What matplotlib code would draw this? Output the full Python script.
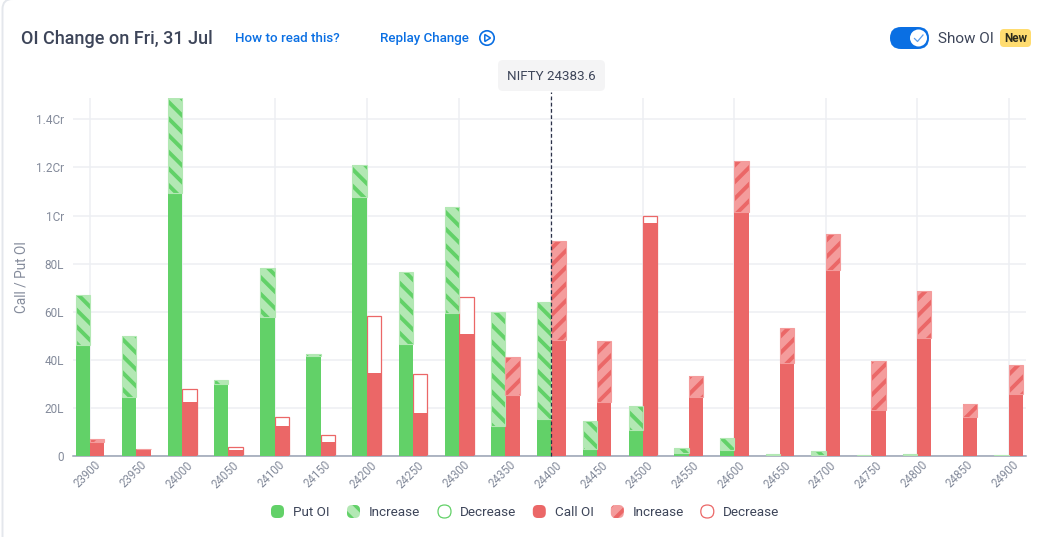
# OI change chart
import numpy as np
import matplotlib
matplotlib.use("Agg")
import matplotlib.pyplot as plt
from matplotlib.patches import FancyBboxPatch, Circle, Polygon
from matplotlib.transforms import ScaledTranslation

plt.rcParams["font.family"] = ["Roboto", "DejaVu Sans"]
plt.rcParams["hatch.linewidth"] = 2.8

# Datos (en lakhs)
strikes = [23900, 23950, 24000, 24050, 24100, 24150, 24200, 24250, 24300, 24350, 24400,
           24450, 24500, 24550, 24600, 24650, 24700, 24750, 24800, 24850, 24900]
put_now = [66.9, 50.0, 149.0, 31.7, 78.0, 42.4, 121.0, 76.4, 103.5, 59.9, 64.0,
           14.6, 20.9, 3.3, 7.3, 1.0, 1.9, 0.3, 0.8, 0.0, 0.3]
put_prev = [46.3, 24.7, 109.2, 29.8, 57.9, 41.6, 107.6, 46.4, 59.6, 12.6, 15.4,
            2.9, 10.8, 1.2, 2.5, 0.5, 0.5, 0.1, 0.4, 0.0, 0.1]
call_now = [7.0, 3.0, 22.5, 2.4, 12.6, 5.7, 34.4, 17.7, 50.7, 41.0, 89.4,
            47.8, 97.0, 33.3, 122.5, 53.1, 92.3, 39.4, 68.6, 21.8, 37.7]
call_prev = [6.0, 2.8, 27.7, 3.6, 16.2, 8.6, 58.4, 34.2, 66.1, 25.4, 48.4,
             22.3, 99.9, 24.4, 101.6, 38.7, 77.3, 19.3, 49.1, 16.2, 25.8]

y_ticks = [0, 20, 40, 60, 80, 100, 120, 140]
y_labels = ["0", "20L", "40L", "60L", "80L", "1Cr", "1.2Cr", "1.4Cr"]
spot_strike = 24400
spot_label = "NIFTY 24383.6"
title = "OI Change on Fri, 31 Jul"

GREEN = "#62D168"
GREEN_L = "#B3E8B4"
RED = "#EB6767"
RED_L = "#F49C9C"
GRID = "#EDEFF3"
TICK = "#848B9B"
INK = "#3D4559"
BLUE = "#0A6FE3"
HATCH_PUT = "\\\\"
HATCH_CALL = "//"

W, H = 1048, 537
fig = plt.figure(figsize=(W / 100, H / 100), dpi=100, facecolor="white")
ax = fig.add_axes([73 / W, 1 - 456 / H, (1026 - 73) / W, (456 - 98) / H])

# las posiciones de los strikes en el original no son del todo uniformes
knots_s = [23880, 23900, 24400, 24900, 24920]
knots_p = [71.3, 89.8, 551.3, 1008.7, 1027]
ax.set_xscale("function", functions=(lambda v: np.interp(v, knots_s, knots_p),
                                     lambda v: np.interp(v, knots_p, knots_s)))
ax.set_xlim(23881.5, 24919)
ax.set_ylim(0, 148.9)

ax.set_yticks(y_ticks, y_labels)
ax.set_xticks(strikes, [str(s) for s in strikes])
ax.grid(axis="y", color=GRID, lw=1.1)
for s in strikes[::2]:
    ax.axvline(s, color=GRID, lw=1.1, zorder=0.5)
ax.set_axisbelow(True)
for side in ["top", "left", "right"]:
    ax.spines[side].set_visible(False)
ax.spines["bottom"].set_color("#98A2B3")
ax.spines["bottom"].set_linewidth(1.1)
ax.tick_params(axis="y", length=0, pad=6.5, labelsize=8.5, labelcolor=TICK)
ax.tick_params(axis="x", length=0, pad=1.8, labelsize=8.3, labelcolor=TICK)
offset = ScaledTranslation(-2.2 / 72, 0, fig.dpi_scale_trans)
for lab in ax.get_xticklabels():
    lab.set_rotation(45)
    lab.set_ha("center")
    lab.set_transform(lab.get_transform() + offset)


def draw_side(now, prev, lefts, solid, light, hatch):
    for x, n, p in zip(lefts, now, prev):
        base = min(n, p)
        if p > n:
            ax.bar(x, p, width=15.6, align="edge", facecolor="white", edgecolor=solid, linewidth=0.9, zorder=2)
        elif n > p:
            ax.bar(x, n, width=15.6, align="edge", facecolor=light, edgecolor=solid, linewidth=0, hatch=hatch, zorder=2)
        ax.bar(x, base, width=15.6, align="edge", color=solid, linewidth=0, zorder=3)
        if n > p:
            # borde claro alrededor de la parte rayada
            ax.bar(x, n - p, bottom=p, width=15.6, align="edge", facecolor="none", edgecolor=light, linewidth=0.8, zorder=3.5)


draw_side(put_now, put_prev, [s - 15.6 for s in strikes], GREEN, GREEN_L, HATCH_PUT)
draw_side(call_now, call_prev, strikes, RED, RED_L, HATCH_CALL)
ax.plot([spot_strike, spot_strike], [0, 151.5], color="#2B3148", lw=0.9, dashes=(3, 2), clip_on=False, zorder=5)

# Capa de la tarjeta, en pixeles
ui = fig.add_axes([0, 0, 1, 1])
ui.set_xlim(0, W)
ui.set_ylim(H, 0)
ui.axis("off")
ui.patch.set_alpha(0)

ui.add_patch(FancyBboxPatch((2.5, -1), 1060, 580, boxstyle="round,pad=0,rounding_size=10",
                            fc="none", ec="#E4E7EC", lw=1.4))
ui.text(21, 39, title, fontsize=12.95, fontweight="medium", color=INK, va="center")
ui.text(235, 39, "How to read this?", fontsize=9.6, fontweight="medium", color=BLUE, va="center")
ui.text(380, 38.5, "Replay Change", fontsize=9.6, fontweight="medium", color=BLUE, va="center")
ui.add_patch(Circle((487, 38), 7.2, fc="none", ec=BLUE, lw=1.2))
ui.add_patch(Polygon([(484.8, 34.5), (484.8, 41.5), (490.5, 38)], closed=True, fc="none", ec=BLUE, lw=1.1))

ui.add_patch(FancyBboxPatch((498, 60), 107, 31, boxstyle="round,pad=0,rounding_size=5", fc="#F4F4F5", ec="none"))
ui.text(551.5, 76.5, spot_label, fontsize=9.6, color=INK, ha="center", va="center")

ui.add_patch(FancyBboxPatch((890, 27), 39, 22, boxstyle="round,pad=0,rounding_size=11", fc="#0A6FE3", ec="none"))
ui.add_patch(Circle((918.5, 38), 8.5, fc="white", ec="none"))
ui.plot([914.5, 917.5, 923], [38.5, 41.5, 35], color="#5C9DEB", lw=0.9)
ui.text(938, 39, "Show OI", fontsize=11, color=INK, va="center")
ui.add_patch(FancyBboxPatch((1000, 29), 31, 18, boxstyle="round,pad=0,rounding_size=4", fc="#FFDC70", ec="none"))
ui.text(1015.5, 38.8, "New", fontsize=8.4, fontweight="bold", color="#2B2A1C", ha="center", va="center")

ui.text(21, 277, "Call / Put OI", fontsize=9.8, color=TICK, rotation=90, ha="center", va="center")

# Leyenda
legend_items = [(277.5, "Put OI", "solid", GREEN, GREEN_L, HATCH_PUT), (353.5, "Increase", "hatch", GREEN, GREEN_L, HATCH_PUT),
                (444.5, "Decrease", "open", GREEN, GREEN_L, HATCH_PUT), (539.3, "Call OI", "solid", RED, RED_L, HATCH_CALL),
                (617.3, "Increase", "hatch", RED, RED_L, HATCH_CALL), (707.3, "Decrease", "open", RED, RED_L, HATCH_CALL)]
ly = 511.5
for cx, text, kind, solid, light, hatch in legend_items:
    corner = (cx - 6.5, ly - 6.5)
    style = "round,pad=0,rounding_size=5"
    if kind == "solid":
        ui.add_patch(FancyBboxPatch(corner, 13, 13, boxstyle=style, fc=solid, ec="none"))
    elif kind == "hatch":
        ui.add_patch(FancyBboxPatch(corner, 13, 13, boxstyle=style, fc=light, ec=solid, lw=0, hatch=hatch))
    else:
        ui.add_patch(FancyBboxPatch(corner, 13, 13, boxstyle="round,pad=0,rounding_size=6.5", fc="white", ec=solid, lw=0.9))
    ui.text(cx + 15.7, ly + 1, text, fontsize=9.7, color=INK, va="center")

fig.savefig("out.png", dpi=100)
